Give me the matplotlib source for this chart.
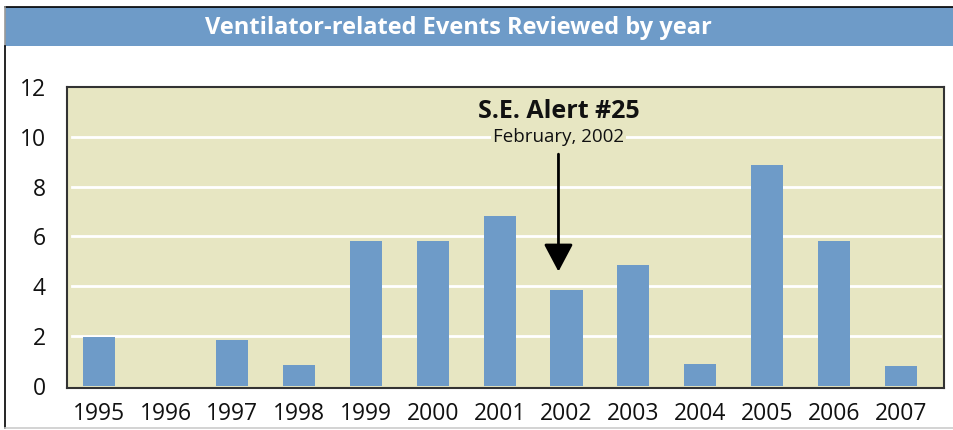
import matplotlib
matplotlib.use("Agg")
import matplotlib.pyplot as plt
from matplotlib.lines import Line2D

years = ["1995", "1996", "1997", "1998", "1999", "2000", "2001",
         "2002", "2003", "2004", "2005", "2006", "2007"]
events = [1.95, 0, 1.82, 0.82, 5.82, 5.82, 6.82, 3.82, 4.86, 0.86, 8.86, 5.82, 0.78]
yticks = [0, 2, 4, 6, 8, 10, 12]
title = "Ventilator-related Events Reviewed by year"
alert_title = "S.E. Alert #25"
alert_date = "February, 2002"
alert_year = "2002"

BLUE = "#6E9BC8"
BG = "#E7E6C2"
FONT = ["Open Sans", "DejaVu Sans"]

W, H = 954, 430
fig = plt.figure(figsize=(W / 100, H / 100), dpi=100)
fig.patch.set_facecolor("white")

def fx(px):
    return px / W

def fy(py):
    return 1 - py / H

# Title banner
bax = fig.add_axes([fx(5), fy(46), fx(949), 39 / H])
bax.set_facecolor(BLUE)
bax.set_xticks([]); bax.set_yticks([])
for s in bax.spines.values():
    s.set_visible(False)
fig.text(fx(458.5), fy(27.5), title, color="white", fontsize=17,
         fontweight="bold", family=FONT, ha="center", va="center")

# Frame lines
fig.add_artist(Line2D([fx(5), 1], [fy(7), fy(7)], color="black", lw=1.2))
fig.add_artist(Line2D([fx(5.5), fx(5.5)], [fy(7), fy(46)], color="#999999", lw=1.2))
fig.add_artist(Line2D([fx(5.5), fx(5.5)], [fy(46), fy(428)], color="black", lw=1.2))
fig.add_artist(Line2D([fx(5), 1], [fy(428), fy(428)], color="#CCCCCC", lw=1.2))

# Main plot
ax = fig.add_axes([fx(66.7), fy(388), fx(944 - 66.7), (388 - 87) / H])
ax.set_facecolor(BG)
x = list(range(len(years)))
for t in yticks[1:-1]:
    ax.axhline(t, xmin=0.006, xmax=0.9955, color="white", lw=2.0, zorder=1)
ax.bar(x, events, width=0.48, color=BLUE, zorder=2)
ax.set_xlim(-0.48, 12.65)
ax.set_ylim(-0.1, 11.94)
ax.set_yticks(yticks)
ax.set_xticks(x)
ax.set_xticklabels(years)
ax.tick_params(axis="both", length=0, labelsize=16.5)
ax.tick_params(axis="y", pad=15)
ax.tick_params(axis="x", pad=10)
for lab in ax.get_xticklabels() + ax.get_yticklabels():
    lab.set_family(FONT)
    lab.set_color("#111111")
for s in ax.spines.values():
    s.set_color("#333333")
    s.set_linewidth(1.5)

# Annotation
xi = years.index(alert_year) - 0.12
ax.text(xi, 11.0, alert_title, ha="center", va="center", fontsize=18,
        fontweight="bold", family=FONT, color="#111111", zorder=4)
ax.text(xi, 9.98, alert_date, ha="center", va="center", fontsize=13.5,
        family=FONT, color="#111111", zorder=4,
        bbox=dict(facecolor=BG, edgecolor="none", pad=1.5))
ax.annotate("", xy=(xi, 4.58), xytext=(xi, 9.3),
            arrowprops=dict(arrowstyle="-|>,head_length=0.85,head_width=0.45",
                            mutation_scale=20, color="black", lw=2.0,
                            shrinkA=0, shrinkB=0),
            zorder=4)

fig.savefig("out.png", dpi=100, facecolor="white")
